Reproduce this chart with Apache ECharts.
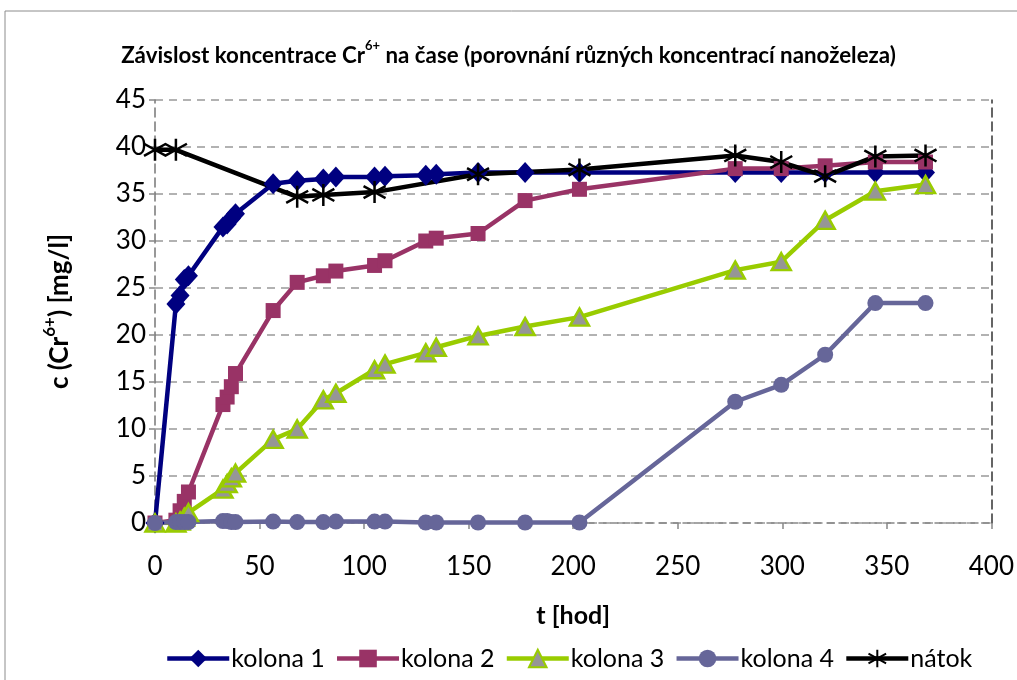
<!DOCTYPE html>
<html>
<head>
<meta charset="utf-8">
<script src="https://cdn.jsdelivr.net/npm/echarts@6/dist/echarts.min.js"></script>
<style>
html,body{margin:0;padding:0;background:#fff;}
#c{width:1017px;height:680px;}
</style>
</head>
<body>
<div id="c"></div>
<script>
const times = [0, 10, 12, 14, 16, 32.5, 34.5, 36.5, 38.5, 56.5, 68, 80.5, 86.5, 105, 110, 129.5, 134.5, 154.5, 177, 203, 277.5, 299.5, 320.5, 344.5, 368.5];
const kolona1 = [0, 23.3, 24.2, 25.9, 26.3, 31.5, 31.8, 32.4, 32.9, 36.1, 36.4, 36.6, 36.8, 36.8, 36.9, 37.0, 37.1, 37.3, 37.3, 37.3, 37.3, 37.3, 37.3, 37.3, 37.3];
const kolona2 = [0, 0.3, 1.3, 2.3, 3.3, 12.6, 13.4, 14.5, 15.9, 22.6, 25.6, 26.3, 26.8, 27.4, 27.9, 30.0, 30.3, 30.8, 34.3, 35.5, 37.7, 37.7, 38.0, 38.4, 38.4];
const kolona3 = [0, 0, 0.2, 0.6, 1.1, 3.6, 4.2, 4.8, 5.3, 8.9, 10.0, 13.1, 13.8, 16.3, 16.9, 18.1, 18.7, 19.9, 20.9, 21.9, 26.9, 27.8, 32.2, 35.3, 36.0];
const kolona4 = [0, 0.1, 0.1, 0.1, 0.1, 0.2, 0.2, 0.1, 0.1, 0.15, 0.1, 0.1, 0.15, 0.15, 0.15, 0.05, 0.05, 0.05, 0.05, 0.05, 12.9, 14.7, 17.9, 23.4, 23.4];
const natokTimes = [0, 10, 68, 80.5, 105, 154.5, 203, 277.5, 299.5, 320.5, 344.5, 368.5];
const natok = [39.7, 39.7, 34.7, 34.9, 35.2, 37.1, 37.6, 39.1, 38.4, 36.9, 39.0, 39.1];
const seriesNames = ['kolona 1', 'kolona 2', 'kolona 3', 'kolona 4', 'nátok'];

const pairs = (xs, ys) => xs.map((x, i) => [x, ys[i]]);
const FONT = 'Lato';
const starPath = 'path://M10,0 L10,20 M1.5,4.5 L18.5,15.5 M18.5,4.5 L1.5,15.5';

const chart = echarts.init(document.getElementById('c'), null, {renderer: 'canvas'});
chart.setOption({
  backgroundColor: '#fff',
  animation: false,
  graphic: [{
    type: 'rect', shape: {x: 5, y: 11, width: 1040, height: 700},
    style: {fill: 'none', stroke: '#8c8c8c', lineWidth: 1}, silent: true, z: -1
  }],
  title: {
    text: '{t|Závislost koncentrace Cr}{s|6+}{t| na čase (porovnání různých koncentrací nanoželeza)}',
    left: 'center', top: 34,
    textStyle: {
      rich: {
        t: {fontFamily: FONT, fontWeight: 'bold', fontSize: 22.3, color: '#000', verticalAlign: 'bottom', lineHeight: 28},
        s: {fontFamily: FONT, fontWeight: 'bold', fontSize: 13, color: '#000', verticalAlign: 'top', lineHeight: 28, padding: [0,0,14,0]}
      }
    }
  },
  grid: {left: 155, right: 25, top: 100, bottom: 157, containLabel: false},
  legend: {
    bottom: 4, left: 160,
    itemWidth: 62, itemHeight: 22, itemGap: 10,
    lineStyle: {width: 4.5},
    textStyle: {fontFamily: FONT, fontSize: 25, color: '#000', padding: [0,0,0,-3]},
    data: seriesNames
  },
  xAxis: {
    type: 'value', min: 0, max: 400, interval: 50,
    name: 't [hod]', nameLocation: 'middle', nameGap: 80,
    nameTextStyle: {fontFamily: FONT, fontWeight: 'bold', fontSize: 25, color: '#000'},
    axisLine: {show: true, onZero: false, lineStyle: {color: '#888', width: 1.5, type: [7,5]}},
    axisTick: {show: true, length: 6, inside: false, lineStyle: {color: '#888', width: 1.5}},
    axisLabel: {fontFamily: FONT, fontSize: 26, color: '#000', margin: 31},
    splitLine: {show: false}
  },
  yAxis: [{
    type: 'value', min: 0, max: 45, interval: 5,
    name: '{b|c (Cr}{s|6+}{b|) [mg/l]}', nameLocation: 'middle', nameGap: 82, nameRotate: 90,
    nameTextStyle: {
      rich: {
        b: {fontFamily: FONT, fontWeight: 'bold', fontSize: 26, color: '#000', lineHeight: 32, verticalAlign: 'bottom'},
        s: {fontFamily: FONT, fontWeight: 'bold', fontSize: 17, color: '#000', lineHeight: 32, verticalAlign: 'top', padding: [0,0,14,0]}
      }
    },
    axisLine: {show: true, lineStyle: {color: '#777', width: 1.5, type: [9,5]}},
    axisTick: {show: true, length: 6, lineStyle: {color: '#888', width: 1.5}},
    axisLabel: {fontFamily: FONT, fontSize: 26, color: '#000', margin: 9},
    splitLine: {show: true, lineStyle: {color: '#999', width: 1.5, type: [8,6]}}
  }, {
    type: 'value', min: 0, max: 45, interval: 5, position: 'right',
    axisLine: {show: true, lineStyle: {color: '#333', width: 1.5, type: [9,5]}},
    axisTick: {show: false}, axisLabel: {show: false}, splitLine: {show: false}
  }],
  series: [
    {
      name: seriesNames[0], type: 'line', data: pairs(times, kolona1),
      symbol: 'diamond', symbolSize: [19, 21],
      lineStyle: {color: '#000080', width: 4.5}, itemStyle: {color: '#000080'}
    },
    {
      name: seriesNames[1], type: 'line', data: pairs(times, kolona2),
      symbol: 'rect', symbolSize: 15,
      lineStyle: {color: '#993366', width: 4.5}, itemStyle: {color: '#993366'}
    },
    {
      name: seriesNames[2], type: 'line', data: pairs(times, kolona3),
      symbol: 'triangle', symbolSize: [19, 17],
      lineStyle: {color: '#99CC00', width: 4.5},
      itemStyle: {color: '#969696', borderColor: '#99CC00', borderWidth: 2.5}
    },
    {
      name: seriesNames[3], type: 'line', data: pairs(times, kolona4),
      symbol: 'circle', symbolSize: 16,
      lineStyle: {color: '#666699', width: 4.5}, itemStyle: {color: '#666699'}
    },
    {
      name: seriesNames[4], type: 'line', data: pairs(natokTimes, natok),
      symbol: starPath, symbolSize: 22,
      lineStyle: {color: '#000', width: 4.5},
      itemStyle: {color: 'none', borderColor: '#000', borderWidth: 2.5}
    }
  ]
});
</script>
</body>
</html>
